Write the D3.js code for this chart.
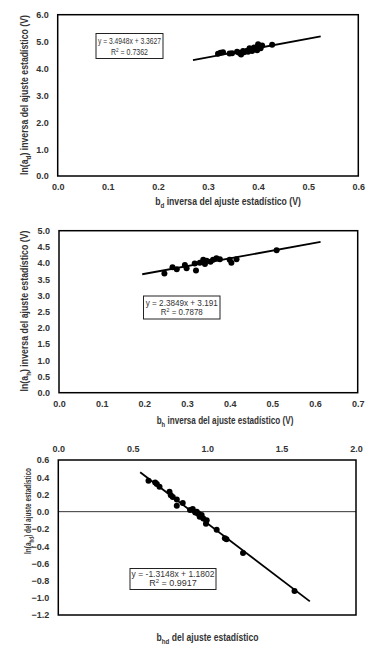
<!DOCTYPE html>
<html>
<head>
<meta charset="utf-8">
<script src="https://cdn.jsdelivr.net/npm/d3@7"></script>
<style>
  html, body { margin: 0; padding: 0; background: #fff; }
  svg { display: block; }
  text { font-family: "Liberation Sans Narrow", "Liberation Sans", "DejaVu Sans Condensed", sans-serif; }
</style>
</head>
<body>
<div id="chart"></div>
<script>
// --- panel 1: ln(ad) vs bd ---
const bdX = [0.320, 0.325, 0.330, 0.343, 0.348, 0.358, 0.362, 0.366, 0.370, 0.372, 0.378, 0.380, 0.383, 0.386, 0.388, 0.392, 0.395, 0.398, 0.400, 0.402, 0.405, 0.408, 0.428];
const adY = [4.55, 4.58, 4.60, 4.56, 4.57, 4.62, 4.58, 4.52, 4.65, 4.60, 4.66, 4.62, 4.75, 4.70, 4.65, 4.78, 4.72, 4.68, 4.90, 4.82, 4.75, 4.85, 4.88];
const fit1 = { slope: 3.4948, icpt: 3.3627, from: 0.27, to: 0.525, eq: "y = 3.4948x + 3.3627", r2: "0.7362" };
const ticks1X = [0.0, 0.1, 0.2, 0.3, 0.4, 0.5, 0.6];
const ticks1Y = [0.0, 1.0, 2.0, 3.0, 4.0, 5.0, 6.0];

// --- panel 2: ln(ah) vs bh ---
const bhX = [0.247, 0.266, 0.276, 0.295, 0.299, 0.318, 0.321, 0.330, 0.338, 0.342, 0.346, 0.355, 0.361, 0.369, 0.377, 0.400, 0.404, 0.416, 0.510];
const ahY = [3.68, 3.87, 3.81, 3.94, 3.84, 3.99, 3.77, 4.01, 4.10, 3.97, 4.07, 4.04, 4.10, 4.15, 4.12, 4.10, 4.01, 4.12, 4.40];
const fit2 = { slope: 2.3849, icpt: 3.191, from: 0.195, to: 0.613, eq: "y = 2.3849x + 3.191", r2: "0.7878" };
const ticks2X = [0.0, 0.1, 0.2, 0.3, 0.4, 0.5, 0.6, 0.7];
const ticks2Y = [0.0, 0.5, 1.0, 1.5, 2.0, 2.5, 3.0, 3.5, 4.0, 4.5, 5.0];

// --- panel 3: ln(ahd) vs bhd ---
const bhdX = [0.606, 0.651, 0.662, 0.680, 0.747, 0.756, 0.769, 0.796, 0.796, 0.836, 0.885, 0.903, 0.920, 0.930, 0.941, 0.950, 0.963, 0.974, 0.997, 0.992, 1.064, 1.119, 1.130, 1.241, 1.587];
const ahdY = [0.36, 0.34, 0.32, 0.29, 0.23, 0.19, 0.17, 0.14, 0.07, 0.10, 0.02, 0.03, -0.01, 0.00, -0.02, -0.06, -0.04, -0.08, -0.10, -0.14, -0.21, -0.31, -0.32, -0.48, -0.92];
const fit3 = { slope: -1.3148, icpt: 1.1802, from: 0.55, to: 1.69, eq: "y = -1.3148x + 1.1802", r2: "0.9917" };
const ticks3X = [0.0, 0.5, 1.0, 1.5, 2.0];
const ticks3Y = [-1.2, -1.0, -0.8, -0.6, -0.4, -0.2, 0.0, 0.2, 0.4, 0.6];

const svg = d3.select("#chart").append("svg")
  .attr("width", 382)
  .attr("height", 650);

// parts: [text, isSub]; subscripts shifted with dy so the rest stays on the baseline
function addLabel(el, parts, size) {
  parts.forEach(p => {
    const t = el.append("tspan").text(p[0]);
    if (p[1]) t.attr("font-size", size * 0.72).attr("dy", 2.5);
    else if (el.selectAll("tspan").size() > 1) t.attr("dy", -2.5);
  });
}

// squeeze a text horizontally (narrow Calibri-like look) to a target width
function fitText(el, base, target) {
  const w = el.node().getComputedTextLength();
  el.attr("transform", `${base} scale(${Math.min(1, target / w)},1)`);
}

function drawPanel(cfg) {
  const x = d3.scaleLinear().domain(cfg.xDomain).range([cfg.left, cfg.right]);
  const y = d3.scaleLinear().domain(cfg.yDomain).range([cfg.bottom, cfg.top]);
  const g = svg.append("g");

  if (cfg.zeroLine) {
    g.append("line")
      .attr("x1", cfg.left).attr("x2", cfg.right)
      .attr("y1", y(0)).attr("y2", y(0))
      .attr("stroke", "#333").attr("stroke-width", 1);
  }

  g.append("rect")
    .attr("x", cfg.left).attr("y", cfg.top)
    .attr("width", cfg.right - cfg.left).attr("height", cfg.bottom - cfg.top)
    .attr("fill", "none").attr("stroke", "#000").attr("stroke-width", 1.5);

  const yAxis = g.append("g")
    .attr("transform", `translate(${cfg.left},0)`)
    .call(d3.axisLeft(y).tickValues(cfg.yTicks).tickFormat(d3.format(".1f")).tickSize(0).tickPadding(9));
  yAxis.select(".domain").remove();
  yAxis.selectAll("text")
    .attr("font-family", null)
    .attr("font-size", 9).attr("font-weight", "bold").attr("fill", "#333");

  const xAx = cfg.xTop ? d3.axisTop(x) : d3.axisBottom(x);
  const xAxis = g.append("g")
    .attr("transform", `translate(0,${cfg.xTop ? cfg.top : cfg.bottom})`)
    .call(xAx.tickValues(cfg.xTicks).tickFormat(d3.format(".1f")).tickSize(0).tickPadding(8));
  xAxis.select(".domain").remove();
  xAxis.selectAll("text")
    .attr("font-family", null)
    .attr("font-size", 9).attr("font-weight", "bold").attr("fill", "#333");

  const line = d3.line().x(d => x(d)).y(d => y(cfg.fit.slope * d + cfg.fit.icpt));
  g.append("path")
    .datum([cfg.fit.from, cfg.fit.to])
    .attr("d", line)
    .attr("fill", "none").attr("stroke", "#000").attr("stroke-width", 1.8);

  g.selectAll("circle.pt")
    .data(cfg.xs.map((v, i) => [v, cfg.ys[i]]))
    .enter().append("circle")
    .attr("class", "pt")
    .attr("cx", d => x(d[0]))
    .attr("cy", d => y(d[1]))
    .attr("r", 3)
    .attr("fill", "#000");

  // equation box
  const b = cfg.box;
  const cx = b.x + b.w / 2;
  g.append("rect")
    .attr("x", b.x).attr("y", b.y).attr("width", b.w).attr("height", b.h)
    .attr("fill", "#fff").attr("stroke", "#222").attr("stroke-width", 1);
  const eq = g.append("text")
    .attr("text-anchor", "middle").attr("font-size", 9).attr("fill", "#333")
    .text(cfg.fit.eq);
  fitText(eq, `translate(${cx},${b.y + b.h * 0.42})`, b.eqLen);
  const r = g.append("text")
    .attr("text-anchor", "middle").attr("font-size", 9).attr("fill", "#333");
  r.append("tspan").text("R");
  r.append("tspan").text("2").attr("font-size", 6).attr("dy", -3);
  r.append("tspan").text(" = " + cfg.fit.r2).attr("dy", 3);
  fitText(r, `translate(${cx},${b.y + b.h * 0.84})`, b.r2Len);

  // axis titles
  const xt = g.append("text")
    .attr("text-anchor", "middle").attr("font-size", 10.5).attr("font-weight", "bold").attr("fill", "#333");
  addLabel(xt, cfg.xTitle, 10.5);
  fitText(xt, `translate(${cfg.xTitleCx},${cfg.xTitleY})`, cfg.xTitleLen);

  const yt = g.append("text")
    .attr("text-anchor", "middle").attr("font-size", cfg.yTitleSize).attr("font-weight", "bold").attr("fill", "#333");
  addLabel(yt, cfg.yTitle, cfg.yTitleSize);
  fitText(yt, `translate(${cfg.yTitleX},${cfg.yTitleCy}) rotate(-90)`, cfg.yTitleLen);
}

drawPanel({
  left: 57.7, right: 358.3, top: 14.7, bottom: 176,
  xDomain: [0, 0.6], yDomain: [0, 6], xTicks: ticks1X, yTicks: ticks1Y,
  xs: bdX, ys: adY, fit: fit1,
  box: { x: 96, y: 33.5, w: 67, h: 25, eqLen: 63, r2Len: 37 },
  xTitle: [["b"], ["d", true], [" inversa del ajuste estadístico (V)"]], xTitleY: 205, xTitleCx: 228, xTitleLen: 146,
  yTitle: [["ln(a"], ["d", true], [") inversa del ajuste estadístico (V)"]], yTitleX: 28, yTitleCy: 95, yTitleLen: 160, yTitleSize: 10
});

drawPanel({
  left: 59, right: 357.7, top: 230.7, bottom: 392.7,
  xDomain: [0, 0.7], yDomain: [0, 5], xTicks: ticks2X, yTicks: ticks2Y,
  xs: bhX, ys: ahY, fit: fit2,
  box: { x: 143.5, y: 296, w: 76.5, h: 23, eqLen: 72, r2Len: 42 },
  xTitle: [["b"], ["h", true], [" inversa del ajuste estadístico (V)"]], xTitleY: 424, xTitleCx: 225, xTitleLen: 137,
  yTitle: [["ln(a"], ["h", true], [") inversa del ajuste estadístico (V)"]], yTitleX: 28, yTitleCy: 311, yTitleLen: 161, yTitleSize: 10
});

drawPanel({
  left: 58.3, right: 356, top: 460, bottom: 615,
  xDomain: [0, 2], yDomain: [-1.2, 0.6], xTicks: ticks3X, yTicks: ticks3Y,
  xs: bhdX, ys: ahdY, fit: fit3, xTop: true, zeroLine: true,
  box: { x: 130, y: 568.5, w: 86, h: 21, eqLen: 83, r2Len: 48 },
  xTitle: [["b"], ["hd", true], [" del ajuste estadístico"]], xTitleY: 641, xTitleCx: 207.5, xTitleLen: 102,
  yTitle: [["ln(a"], ["hd", true], [") del ajuste estadístico"]], yTitleX: 31, yTitleCy: 511, yTitleLen: 86, yTitleSize: 9.5
});
</script>
</body>
</html>
